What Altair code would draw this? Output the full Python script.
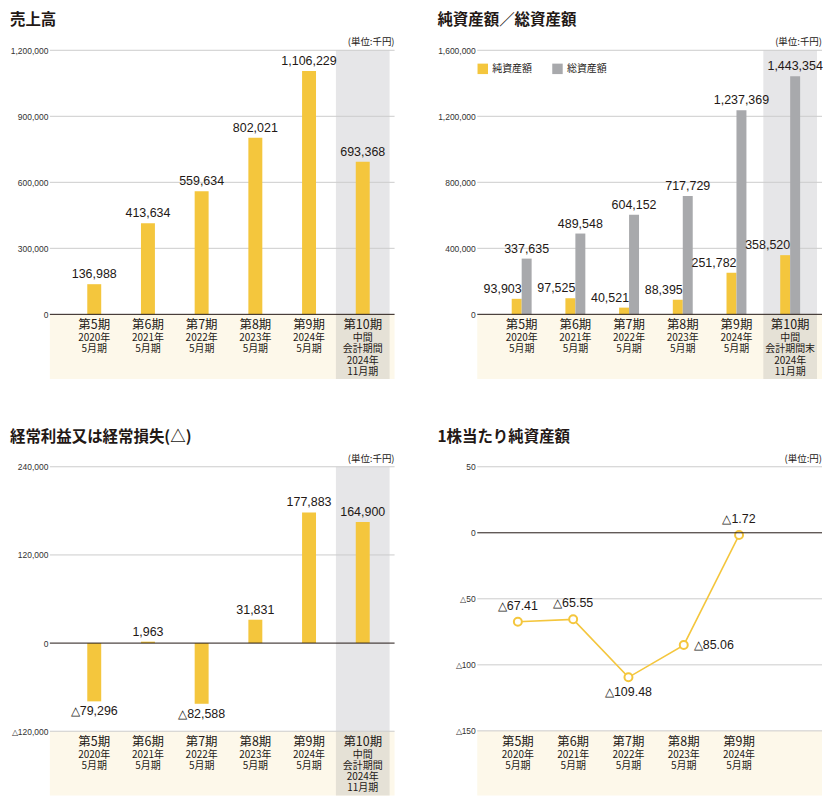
import altair as alt
import pandas as pd

# ---------------- data ----------------
periods = ["第5期", "第6期", "第7期", "第8期", "第9期", "第10期"]
sub_labels = ["2020年\n5月期", "2021年\n5月期", "2022年\n5月期", "2023年\n5月期",
              "2024年\n5月期", "中間\n会計期間\n2024年\n11月期"]
sub_labels_assets = ["2020年\n5月期", "2021年\n5月期", "2022年\n5月期", "2023年\n5月期",
                     "2024年\n5月期", "中間\n会計期間末\n2024年\n11月期"]
sales = [136988, 413634, 559634, 802021, 1106229, 693368]
net_assets = [93903, 97525, 40521, 88395, 251782, 358520]
total_assets = [337635, 489548, 604152, 717729, 1237369, 1443354]
ordinary_income = [-79296, 1963, -82588, 31831, 177883, 164900]
bps_periods = ["第5期", "第6期", "第7期", "第8期", "第9期"]
bps = [-67.41, -65.55, -109.48, -85.06, -1.72]

ticks_sales = [0, 300000, 600000, 900000, 1200000]
ticks_assets = [0, 400000, 800000, 1200000, 1600000]
ticks_oi = [-120000, 0, 120000, 240000]
ticks_bps = [-150, -100, -50, 0, 50]

# ---------------- style ----------------
YELLOW = "#f4c63d"
GRAY_BAR = "#a8a9ac"
COL_BG = "#e6e6e8"
BAND_BG = "#fdf8ea"
BAND_COL_BG = "#e5e1d6"
GRID = "#cccccc"
ZERO = "#231815"
TXT = "#231815"
JP = "Noto Sans CJK JP"
NUM = "Liberation Sans"
LBL = "Liberation Sans"
NUM_SIZE = 12.5
PW, PH = 346, 330
X_DOMAIN = [-0.734, 5.5]
HL = periods.index("第10期")
NEG_EXPR = "datum.value < 0 ? '△' + format(-datum.value, ',') : format(datum.value, ',')"

one = pd.DataFrame({"k": [0]})


def xsc():
    return alt.Scale(domain=X_DOMAIN, nice=False, zero=False)


def panel(title, unit, y_domain, ticks, cat_df, highlight, data_layers, title_y):
    ysc = alt.Scale(domain=y_domain, nice=False, zero=False)
    yax = alt.Axis(values=ticks, grid=False, domain=False, ticks=False, labelPadding=2,
                   labelFontSize=8.5, labelFont=NUM, labelColor="#333333", title=None,
                   labelExpr=NEG_EXPR)
    bottom = ticks[0]

    def Y(field=None, datum=None):
        if field is not None:
            return alt.Y(field, scale=ysc, axis=yax)
        return alt.Y(datum=datum, type="quantitative", scale=ysc, axis=yax)

    layers = []
    layers.append(alt.Chart(one).mark_rect(color=BAND_BG).encode(
        x=alt.value(0), x2=alt.value(PW), y=Y(datum=bottom), y2=alt.Y2(datum=y_domain[0])))
    if highlight:
        base = alt.Chart(cat_df).transform_filter(f"datum.idx == {HL}").transform_calculate(
            x0="datum.idx - 0.5", x1="datum.idx + 0.5")
        layers.append(base.mark_rect(color=COL_BG).encode(
            x=alt.X("x0:Q", scale=xsc(), axis=None), x2="x1:Q",
            y=Y(datum=y_domain[1]), y2=alt.Y2(datum=bottom)))
        layers.append(base.mark_rect(color=BAND_COL_BG).encode(
            x=alt.X("x0:Q", scale=xsc(), axis=None), x2="x1:Q",
            y=Y(datum=bottom), y2=alt.Y2(datum=y_domain[0])))
    layers.append(alt.Chart(pd.DataFrame({"v": ticks})).transform_filter("datum.v != 0")
                  .mark_rule(color=GRID, strokeWidth=1).encode(y=Y("v:Q")))
    layers.extend(data_layers(Y))
    layers.append(alt.Chart(one).mark_rule(color=ZERO, strokeWidth=1).encode(y=Y(datum=0)))
    layers.append(alt.Chart(cat_df).mark_text(font=JP, fontSize=12.5, color=TXT, baseline="middle").encode(
        x=alt.X("idx:Q", scale=xsc(), axis=None), y=alt.value(276), text="period:N"))
    layers.append(alt.Chart(cat_df).mark_text(font=JP, fontSize=10, color=TXT, baseline="top",
                                              lineBreak="\n", lineHeight=11.2).encode(
        x=alt.X("idx:Q", scale=xsc(), axis=None), y=alt.value(284), text="sub:N"))
    layers.append(alt.Chart(one).mark_text(font=JP, fontSize=9.5, color=TXT, align="right",
                                           baseline="middle").encode(
        x=alt.value(PW), y=alt.value(-8), text=alt.value(unit)))
    layers.append(alt.Chart(one).mark_text(font=JP, fontSize=15.5, fontWeight="bold", color=TXT,
                                           align="left", baseline="middle").encode(
        x=alt.value(-40), y=alt.value(title_y), text=alt.value(title)))
    return alt.layer(*layers).properties(width=PW, height=PH)


LAB_EXPR = "(datum.v < 0 ? '△' : '') + format(abs(datum.v), ',')"

# ---- sales ----
df_sales = pd.DataFrame({"idx": range(6), "period": periods, "sub": sub_labels, "v": sales})


def sales_layers(Y):
    b = alt.Chart(df_sales)
    return [
        b.mark_bar(width=14, color=YELLOW).encode(
            x=alt.X("idx:Q", scale=xsc(), axis=None), y=Y("v:Q"), y2=alt.Y2(datum=0)),
        b.transform_calculate(lab=LAB_EXPR).mark_text(font=LBL, fontSize=NUM_SIZE, color=TXT,
                                                      baseline="bottom", dy=-3).encode(
            x=alt.X("idx:Q", scale=xsc(), axis=None), y=Y("v:Q"), text="lab:N"),
    ]


# ---- assets ----
df_assets = pd.DataFrame({"idx": range(6), "period": periods, "sub": sub_labels_assets,
                          "net": net_assets, "total": total_assets})
series = ["純資産額", "総資産額"]
color_scale = alt.Scale(domain=series, range=[YELLOW, GRAY_BAR])
legend = alt.Legend(orient="none", legendX=0, legendY=13, direction="horizontal", title=None,
                    symbolType="square", symbolSize=110, symbolStrokeWidth=0, labelFont=JP,
                    labelFontSize=10, labelColor=TXT, columnPadding=20, labelOffset=4)


def asset_layers(Y):
    b = alt.Chart(df_assets)
    net = b.transform_calculate(s="'純資産額'", v="datum.net")
    tot = b.transform_calculate(s="'総資産額'", v="datum.total")
    return [
        net.mark_bar(width=10, xOffset=-5).encode(
            x=alt.X("idx:Q", scale=xsc(), axis=None), y=Y("v:Q"), y2=alt.Y2(datum=0),
            color=alt.Color("s:N", scale=color_scale, legend=legend)),
        tot.mark_bar(width=10, xOffset=5).encode(
            x=alt.X("idx:Q", scale=xsc(), axis=None), y=Y("v:Q"), y2=alt.Y2(datum=0),
            color=alt.Color("s:N", scale=color_scale, legend=legend)),
        net.transform_calculate(lab=LAB_EXPR).mark_text(font=LBL, fontSize=NUM_SIZE, color=TXT,
                                                        align="right", baseline="bottom", dy=-3).encode(
            x=alt.X("idx:Q", scale=xsc(), axis=None), y=Y("v:Q"), text="lab:N"),
        tot.transform_calculate(lab=LAB_EXPR).mark_text(font=LBL, fontSize=NUM_SIZE, color=TXT,
                                                        baseline="bottom", dy=-3, dx=5).encode(
            x=alt.X("idx:Q", scale=xsc(), axis=None), y=Y("v:Q"), text="lab:N"),
    ]


# ---- ordinary income ----
df_oi = pd.DataFrame({"idx": range(6), "period": periods, "sub": sub_labels, "v": ordinary_income})


def oi_layers(Y):
    b = alt.Chart(df_oi)
    lab = b.transform_calculate(lab=LAB_EXPR)
    return [
        b.mark_bar(width=14, color=YELLOW).encode(
            x=alt.X("idx:Q", scale=xsc(), axis=None), y=Y("v:Q"), y2=alt.Y2(datum=0)),
        lab.transform_filter("datum.v >= 0").mark_text(font=LBL, fontSize=NUM_SIZE, color=TXT,
                                                       baseline="bottom", dy=-3).encode(
            x=alt.X("idx:Q", scale=xsc(), axis=None), y=Y("v:Q"), text="lab:N"),
        lab.transform_filter("datum.v < 0").mark_text(font=LBL, fontSize=NUM_SIZE, color=TXT,
                                                      baseline="top", dy=4).encode(
            x=alt.X("idx:Q", scale=xsc(), axis=None), y=Y("v:Q"), text="lab:N"),
    ]


# ---- BPS ----
df_bps = pd.DataFrame({"idx": range(5), "period": bps_periods, "sub": sub_labels[:5], "v": bps})
BPS_LAB = "(datum.v < 0 ? '△' : '') + format(abs(datum.v), '.2f')"


def bps_layers(Y):
    b = alt.Chart(df_bps)
    lab = b.transform_calculate(lab=BPS_LAB)
    enc = dict(x=alt.X("idx:Q", scale=xsc(), axis=None), y=Y("v:Q"))
    return [
        b.mark_line(color=YELLOW, strokeWidth=1.6).encode(**enc),
        b.mark_point(shape="circle", filled=True, color="white", stroke=YELLOW, strokeWidth=2,
                     size=64, opacity=1).encode(**enc),
        lab.transform_filter("datum.idx == 0 || datum.idx == 1 || datum.idx == 4").mark_text(
            font=LBL, fontSize=NUM_SIZE, color=TXT, baseline="bottom", dy=-9).encode(text="lab:N", **enc),
        lab.transform_filter("datum.idx == 2").mark_text(
            font=LBL, fontSize=NUM_SIZE, color=TXT, baseline="top", dy=9).encode(text="lab:N", **enc),
        lab.transform_filter("datum.idx == 3").mark_text(
            font=LBL, fontSize=NUM_SIZE, color=TXT, align="left", baseline="middle", dx=10).encode(
            text="lab:N", **enc),
    ]


tl = panel("売上高", "(単位:千円)", [-294300, 1200000], ticks_sales, df_sales, True, sales_layers, -30)
tr = panel("純資産額／総資産額", "(単位:千円)", [-392500, 1600000], ticks_assets, df_assets, True,
           asset_layers, -30)
bl = panel("経常利益又は経常損失(△)", "(単位:千円)", [-207500, 240000], ticks_oi, df_oi, True,
           oi_layers, -30)
br = panel("1株当たり純資産額", "(単位:円)", [-199, 50], ticks_bps, df_bps, False, bps_layers, -30)

chart = alt.concat(tl, tr, bl, br, columns=2, spacing={"row": 51, "column": 42}).resolve_scale(
    color="independent"
).resolve_legend(color="independent").properties(
    padding={"top": 4, "left": 2, "right": 0, "bottom": 0}, background="white"
).configure_view(stroke=None)

chart.save("out.html", embed_options={"renderer": "svg", "actions": False})
